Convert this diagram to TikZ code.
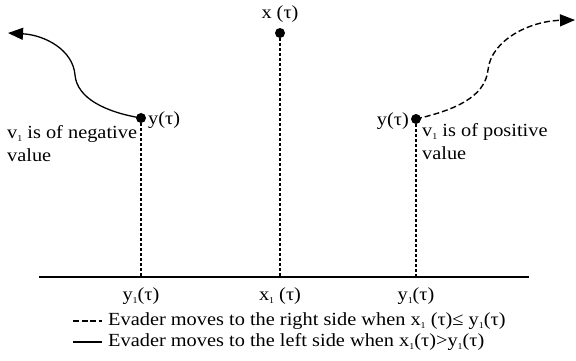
\documentclass[tikz,border=0pt]{standalone}
\usepackage{fontspec}
\setmainfont{Liberation Serif}[FakeStretch=1.1]
\usetikzlibrary{arrows.meta}
\newcommand{\sone}{\raisebox{-0.35ex}{\fontsize{9}{9}\selectfont 1}}
\begin{document}
\begin{tikzpicture}[x=1pt,y=-1pt,
  font=\fontsize{18.5}{20}\selectfont,
  dot/.style={circle,fill,inner sep=0pt,minimum size=10pt},
  lbl/.style={inner sep=0pt},
  vdot/.style={line width=1.5pt, dash pattern=on 3pt off 2pt},
  vdash/.style={line width=2.8pt, dash pattern=on 3pt off 2pt},
  axis/.style={line width=1.4pt},
  path/.style={line width=1.3pt},
  dpath/.style={line width=1.4pt, dash pattern=on 6pt off 3pt},
  tip/.style={-{Triangle[length=15pt,width=12pt]}}]
\useasboundingbox (0,0) rectangle (576,360);

\coordinate (B0) at (39,277);
\coordinate (B1) at (529,277);
\draw[axis] (B0) -- (B1);

\node[dot] (L) at (141,118) {};
\node[dot] (C) at (280,33) {};
\node[dot] (R) at (416,119) {};
\coordinate (Lb) at (141,277);
\coordinate (Cb) at (280,277);
\coordinate (Rb) at (416,277);
\draw[vdot] (L.center) -- (Lb);
\draw[vdash] (C.center) -- (Cb);
\draw[vdot] (R.center) -- (Rb);

\coordinate (LT) at (8,33);
\coordinate (RT) at (575,20);
\draw[path,tip] (L.center) .. controls (105,112) and (77,98) .. (75,75)
  .. controls (73,50) and (45,35) .. (LT);
\draw[dpath,tip] (R.center) .. controls (455,110) and (485,97) .. (488,70)
  .. controls (491,40) and (530,21) .. (RT);

\node[lbl,anchor=west] (yl) at (148,120) {y(τ)};
\node[lbl,anchor=west] (nl1) at (7,134) {v\sone{} is of negative};
\node[lbl,anchor=west] (nl2) at (7,155) {value};
\node[lbl,anchor=east] (yr) at (409,121) {y(τ)};
\node[lbl,anchor=west] (pl1) at (422,132) {v\sone{} is of positive};
\node[lbl,anchor=west] (pl2) at (422,153) {value};
\node[lbl] (xt) at (280,14) {x (τ)};

\node[lbl] (b1) at (141,296) {y\sone(τ)};
\node[lbl] (b2) at (280,296) {x\sone{} (τ)};
\node[lbl] (b3) at (416,296) {y\sone(τ)};

\coordinate (D0) at (73,321);
\coordinate (D1) at (102,321);
\coordinate (S0) at (73,342);
\coordinate (S1) at (102,342);
\draw[line width=1.2pt, dash pattern=on 6pt off 2.5pt] (D0) -- (D1);
\draw[line width=1.2pt] (S0) -- (S1);
\node[lbl,anchor=west] (t1) at (108,321) {Evader moves to the right side when x\sone{} (τ)≤ y\sone(τ)};
\node[lbl,anchor=west] (t2) at (108,342) {Evader moves to the left side when x\sone(τ)>y\sone(τ)};
\end{tikzpicture}
\end{document}
